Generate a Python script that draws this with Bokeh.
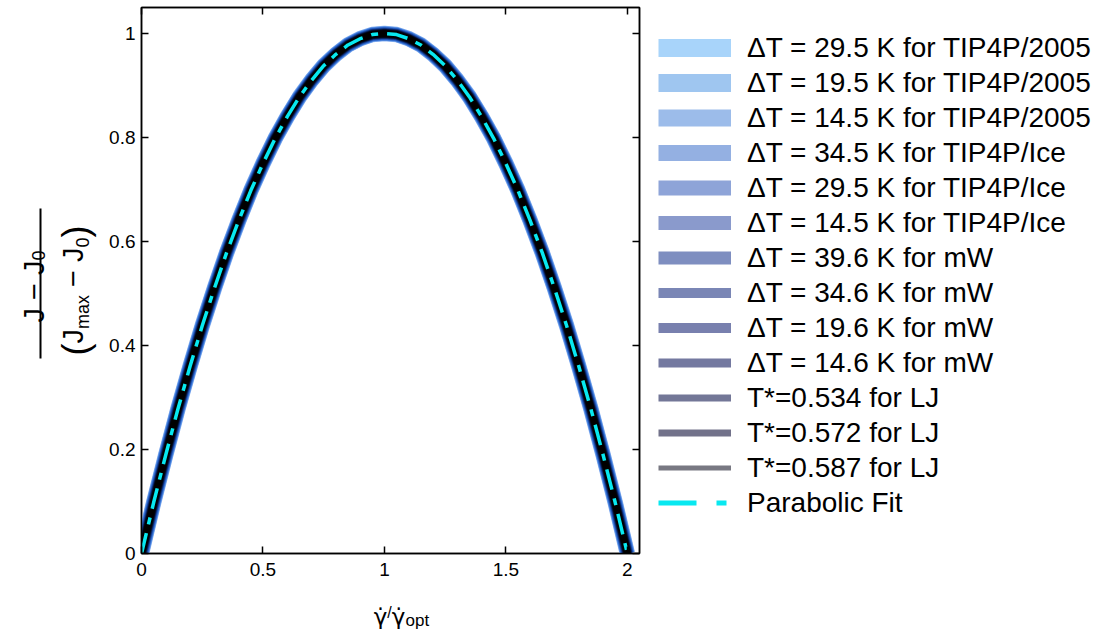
import math
from bokeh.plotting import figure
from bokeh.layouts import row, column
from bokeh.models import Range1d, LinearAxis, FixedTicker, Legend, LegendItem, Label
from bokeh.embed import file_html
from bokeh.resources import INLINE

# ---------------- data ----------------
shear_ratio = [0.00, 0.05, 0.10, 0.15, 0.20, 0.25, 0.30, 0.35, 0.40, 0.45, 0.50,
               0.55, 0.60, 0.65, 0.70, 0.75, 0.80, 0.85, 0.90, 0.95, 1.00,
               1.05, 1.10, 1.15, 1.20, 1.25, 1.30, 1.35, 1.40, 1.45, 1.50,
               1.55, 1.60, 1.65, 1.70, 1.75, 1.80, 1.85, 1.90, 1.95, 2.00]
collapsed_J = [0.000, 0.098, 0.190, 0.278, 0.360, 0.438, 0.510, 0.578, 0.640, 0.698, 0.750,
               0.798, 0.840, 0.878, 0.910, 0.938, 0.960, 0.978, 0.990, 0.998, 1.000,
               0.998, 0.990, 0.978, 0.960, 0.938, 0.910, 0.878, 0.840, 0.798, 0.750,
               0.698, 0.640, 0.578, 0.510, 0.438, 0.360, 0.278, 0.190, 0.098, 0.000]
parabolic_fit = [0.000, 0.098, 0.190, 0.278, 0.360, 0.438, 0.510, 0.578, 0.640, 0.698, 0.750,
                 0.798, 0.840, 0.878, 0.910, 0.938, 0.960, 0.978, 0.990, 0.998, 1.000,
                 0.998, 0.990, 0.978, 0.960, 0.938, 0.910, 0.878, 0.840, 0.798, 0.750,
                 0.698, 0.640, 0.578, 0.510, 0.438, 0.360, 0.278, 0.190, 0.098, 0.000]

series_labels = [
    "ΔT = 29.5 K for TIP4P/2005",
    "ΔT = 19.5 K for TIP4P/2005",
    "ΔT = 14.5 K for TIP4P/2005",
    "ΔT = 34.5 K for TIP4P/Ice",
    "ΔT = 29.5 K for TIP4P/Ice",
    "ΔT = 14.5 K for TIP4P/Ice",
    "ΔT = 39.6 K for mW",
    "ΔT = 34.6 K for mW",
    "ΔT = 19.6 K for mW",
    "ΔT = 14.6 K for mW",
    "T*=0.534 for LJ",
    "T*=0.572 for LJ",
    "T*=0.587 for LJ",
]
fit_label = "Parabolic Fit"
x_ticks = [0, 0.5, 1, 1.5, 2]
y_ticks = [0, 0.2, 0.4, 0.6, 0.8, 1]

# ---------------- styles ----------------
legend_colors = ["#a8d4fa", "#9fc6f0", "#9cbcea", "#94b0e2", "#8ea4d8", "#8a9acc", "#7e8ec0",
                 "#7a86b5", "#7880ae", "#7479a0", "#737797", "#72728a", "#787882"]
legend_widths = [18, 18, 17, 16, 15, 14, 13, 10, 10, 9, 7, 7, 5]
plot_colors = ["#8ab2f2", "#6396e6", "#4580da", "#2f6ace", "#245abd", "#1a48a2", "#123684",
               "#0b2663", "#061843", "#030d28", "#010614", "#000208", "#000000"]
plot_widths = [15.5, 14.6, 13.7, 12.8, 12, 11.2, 10.4, 9.6, 8.9, 8.2, 7.5, 6.8, 6]
FIT_COLOR = "#08e8f0"
FONT = "Liberation Sans"

W, H = 1109, 629
YW = 100            # width of the y-title strip
PW, PH = 549, 585   # main plot size
LW = W - YW - PW    # legend strip width
XH = H - PH         # x-title strip height

# ---------------- main plot ----------------
p = figure(width=PW, height=PH, output_backend="svg", toolbar_location=None,
           x_range=Range1d(0, 2.05), y_range=Range1d(0, 1.05),
           min_border_left=41, min_border_right=10, min_border_top=7,
           min_border_bottom=32)
p.background_fill_color = "white"
p.border_fill_color = "white"
p.outline_line_color = "black"
p.outline_line_width = 1.5
p.grid.visible = False

def style_axis(ax, ticks, labels=True):
    ax.ticker = FixedTicker(ticks=ticks)
    ax.major_tick_in = 7
    ax.major_tick_out = 0
    ax.minor_tick_line_color = None
    ax.axis_line_color = "black"
    ax.axis_line_width = 1.5
    ax.major_tick_line_color = "black"
    ax.major_tick_line_width = 1.5
    ax.major_label_text_font = FONT
    if labels:
        ax.major_label_text_font_size = "19px"
        ax.major_label_text_color = "black"
    else:
        ax.major_label_text_font_size = "1px"
        ax.major_label_text_color = None
        ax.major_label_standoff = 0

style_axis(p.xaxis[0], x_ticks)
style_axis(p.yaxis[0], y_ticks)
p.xaxis[0].major_label_standoff = 9
p.yaxis[0].major_label_standoff = 6
p.xaxis[0].major_label_overrides = {0: "0", 1: "1", 2: "2"}
p.yaxis[0].major_label_overrides = {0: "0", 1: "1"}

top_ax = LinearAxis()
right_ax = LinearAxis()
style_axis(top_ax, x_ticks, labels=False)
style_axis(right_ax, y_ticks, labels=False)
p.add_layout(top_ax, "above")
p.add_layout(right_ax, "right")

for c, w in zip(plot_colors, plot_widths):
    p.line(shear_ratio, collapsed_J, line_color=c, line_width=w)
p.line(shear_ratio, parabolic_fit, line_color=FIT_COLOR, line_width=3.5, line_dash="21 9 7 9")

# ---------------- helper strips (pixel coordinates) ----------------
def strip(w, h):
    f = figure(width=w, height=h, output_backend="svg", toolbar_location=None,
               x_range=Range1d(0, w), y_range=Range1d(0, h),
               x_axis_type=None, y_axis_type=None,
               min_border=0, min_border_left=0, min_border_right=0,
               min_border_top=0, min_border_bottom=0)
    f.outline_line_color = None
    f.background_fill_color = "white"
    f.border_fill_color = "white"
    return f

def lab(f, text, x, y_top, size, angle=0.0, align="left", font=FONT):
    f.add_layout(Label(x=x, y=f.height - y_top, text=text, angle=angle,
                       text_align=align, text_baseline="alphabetic",
                       text_font=font, text_font_size=f"{size}px", text_color="black"))

# y title: (J − J0) / (Jmax − J0), rotated
yfig = strip(YW, H)
up = math.pi / 2
lab(yfig, "J − J", 33, 260, 29, angle=up, align="right")
lab(yfig, "0", 38, 260, 18, angle=up, align="left")
lab(yfig, "(", 75, 355, 36, angle=up)
lab(yfig, "J", 72, 343, 29, angle=up)
lab(yfig, "max", 82, 328.5, 18, angle=up)
lab(yfig, "− J", 72, 286.5, 29, angle=up)
lab(yfig, "0", 82, 247, 18, angle=up)
lab(yfig, ")", 75, 237, 36, angle=up)
yfig.segment(x0=[40], y0=[H - 208], x1=[40], y1=[H - 358], line_color="black", line_width=2)

# x title: γ̇ / γ̇_opt
xfig = strip(PW, XH)
lab(xfig, "γ̇", 356 - YW, 616 - PH, 23, font="DejaVu Sans")
lab(xfig, "/", 371 - YW, 612 - PH, 16, font=FONT)
lab(xfig, "γ̇", 376 - YW, 616 - PH, 23, font="DejaVu Sans")
lab(xfig, "opt", 391 - YW, 620 - PH, 17, font=FONT)

# legend strip (swatch renderers sit outside the strip's visible range)
lfig = strip(LW, H)
off_x = [-20, -10]
off_y = [-20, -10]
items = []
for name, c, w in zip(series_labels, legend_colors, legend_widths):
    r = lfig.line(off_x, off_y, line_color=c, line_width=w)
    items.append(LegendItem(label=name, renderers=[r]))
rf = lfig.line(off_x, off_y, line_color=FIT_COLOR, line_width=5, line_dash="38 20 10 20")
items.append(LegendItem(label=fit_label, renderers=[rf]))

legend = Legend(items=items, location=(658 - YW - PW, H - 520))
legend.padding = 0
legend.margin = 0
legend.spacing = 0
legend.glyph_width = 73
legend.glyph_height = 35
legend.label_height = 35
legend.label_standoff = 16
legend.label_text_font = FONT
legend.label_text_font_size = "28px"
legend.label_text_color = "black"
legend.label_text_baseline = "middle"
legend.border_line_color = None
legend.background_fill_alpha = 0
lfig.add_layout(legend)

layout = row(yfig, column(p, xfig), lfig)
open("out.html", "w").write(file_html(layout, INLINE))
